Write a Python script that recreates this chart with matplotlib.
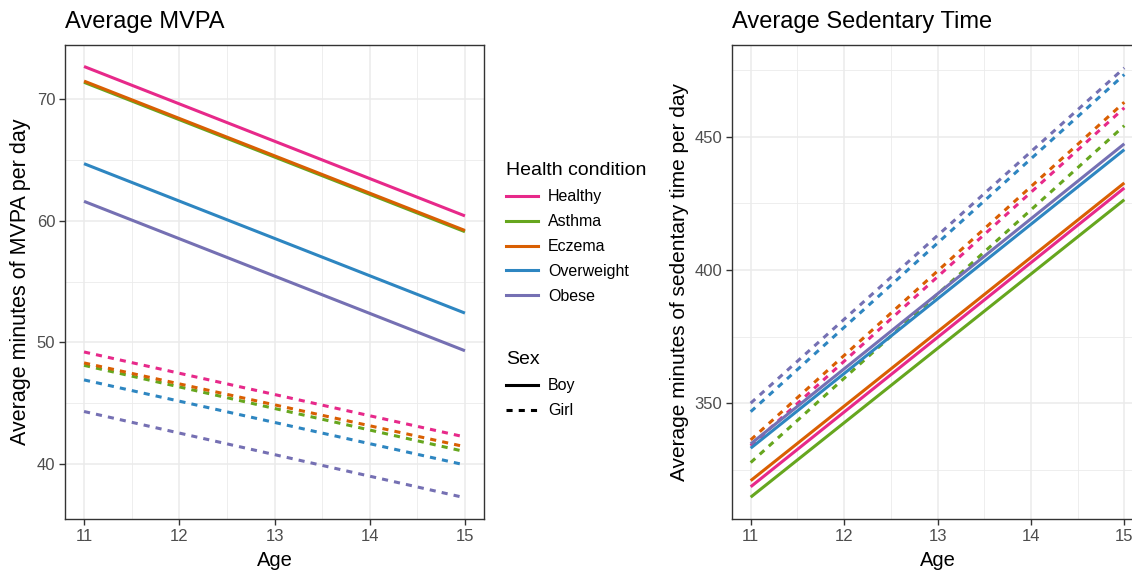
import matplotlib
matplotlib.use("Agg")
import matplotlib.pyplot as plt
from matplotlib.lines import Line2D
from matplotlib.ticker import MultipleLocator

plt.rcParams["font.family"] = ["Liberation Sans", "DejaVu Sans"]

# %% data
ages = [11, 15]
conditions = ["Healthy", "Asthma", "Eczema", "Overweight", "Obese"]
colours = ["#E7298A", "#66A61E", "#D95F02", "#2E86C1", "#7570B3"]

mvpa_boy_11 = [72.7, 71.4, 71.5, 64.7, 61.6]
mvpa_boy_15 = [60.4, 59.1, 59.2, 52.4, 49.3]
mvpa_girl_11 = [49.2, 48.1, 48.3, 46.9, 44.3]
mvpa_girl_15 = [42.2, 41.0, 41.4, 39.9, 37.2]

sed_boy_11 = [318.6, 314.7, 320.9, 333.1, 334.7]
sed_boy_15 = [430.8, 426.4, 432.7, 445.2, 447.4]
sed_girl_11 = [334.0, 327.7, 336.2, 346.8, 350.0]
sed_girl_15 = [460.9, 454.2, 463.0, 473.4, 475.9]

LW = 2.2
DASH = (2, 2)


def style_bw(ax, ymajor, yminor):
    """ggplot2 theme_bw look"""
    ax.set_facecolor("white")
    for s in ax.spines.values():
        s.set_color("#333333")
        s.set_linewidth(1.0)
    ax.xaxis.set_major_locator(MultipleLocator(1))
    ax.xaxis.set_minor_locator(MultipleLocator(0.5))
    ax.yaxis.set_major_locator(MultipleLocator(ymajor))
    ax.yaxis.set_minor_locator(MultipleLocator(yminor))
    ax.grid(which="major", color="#EBEBEB", linewidth=1.1)
    ax.grid(which="minor", color="#EBEBEB", linewidth=0.6)
    ax.set_axisbelow(True)
    ax.tick_params(which="major", length=4, width=1.0, color="#333333",
                   labelcolor="#4D4D4D", labelsize=12, pad=3)
    ax.tick_params(which="minor", length=0)


def plot_panel(ax, boy0, boy1, girl0, girl1):
    for c, col in enumerate(colours):
        ax.plot(ages, [girl0[c], girl1[c]], color=col, lw=LW, dashes=DASH,
                solid_capstyle="butt")
    for c, col in enumerate(colours):
        ax.plot(ages, [boy0[c], boy1[c]], color=col, lw=LW, solid_capstyle="butt")


W, H = 1132, 570
fig = plt.figure(figsize=(W / 100, H / 100), dpi=100)

ax1 = fig.add_axes([65 / W, 1 - 519 / H, (484 - 65) / W, (519 - 45) / H])
plot_panel(ax1, mvpa_boy_11, mvpa_boy_15, mvpa_girl_11, mvpa_girl_15)
style_bw(ax1, 10, 5)
ax1.set_xlim(10.8, 15.2)
ax1.set_ylim(35.45, 74.47)
ax1.set_xlabel("Age", fontsize=14.5, labelpad=5)
ax1.set_ylabel("Average minutes of MVPA per day", fontsize=15.5, labelpad=4)

ax2 = fig.add_axes([732 / W, 1 - 519 / H, (1143 - 732) / W, (519 - 45) / H])
plot_panel(ax2, sed_boy_11, sed_boy_15, sed_girl_11, sed_girl_15)
style_bw(ax2, 50, 25)
ax2.set_xlim(10.8, 15.2)
ax2.set_ylim(306.5, 484.5)
ax2.set_xlabel("Age", fontsize=14.5, labelpad=5)
ax2.set_ylabel("Average minutes of sedentary time per day", fontsize=15,
               labelpad=4)

fig.text(65 / W, 1 - 22 / H, "Average MVPA", fontsize=17, va="center", ha="left")
fig.text(732 / W, 1 - 22 / H, "Average Sedentary Time", fontsize=17,
         va="center", ha="left")

# legends
cond_handles = [Line2D([], [], color=col, lw=LW) for col in colours]
leg1 = fig.legend(cond_handles, conditions, title="Health condition",
                  loc="upper left", bbox_to_anchor=(500 / W, 1 - 156 / H),
                  frameon=False, alignment="left", fontsize=11.5,
                  title_fontsize=14, handlelength=2.0, handletextpad=0.6,
                  labelspacing=0.62, borderaxespad=0)
sex_handles = [Line2D([], [], color="black", lw=LW),
               Line2D([], [], color="black", lw=LW, dashes=DASH)]
leg2 = fig.legend(sex_handles, ["Boy", "Girl"], title="Sex",
                  loc="upper left", bbox_to_anchor=(500 / W, 1 - 345 / H),
                  frameon=False, alignment="left", fontsize=11.5,
                  title_fontsize=14, handlelength=2.0, handletextpad=0.6,
                  labelspacing=0.62, borderaxespad=0)

fig.savefig("out.png", dpi=100)
